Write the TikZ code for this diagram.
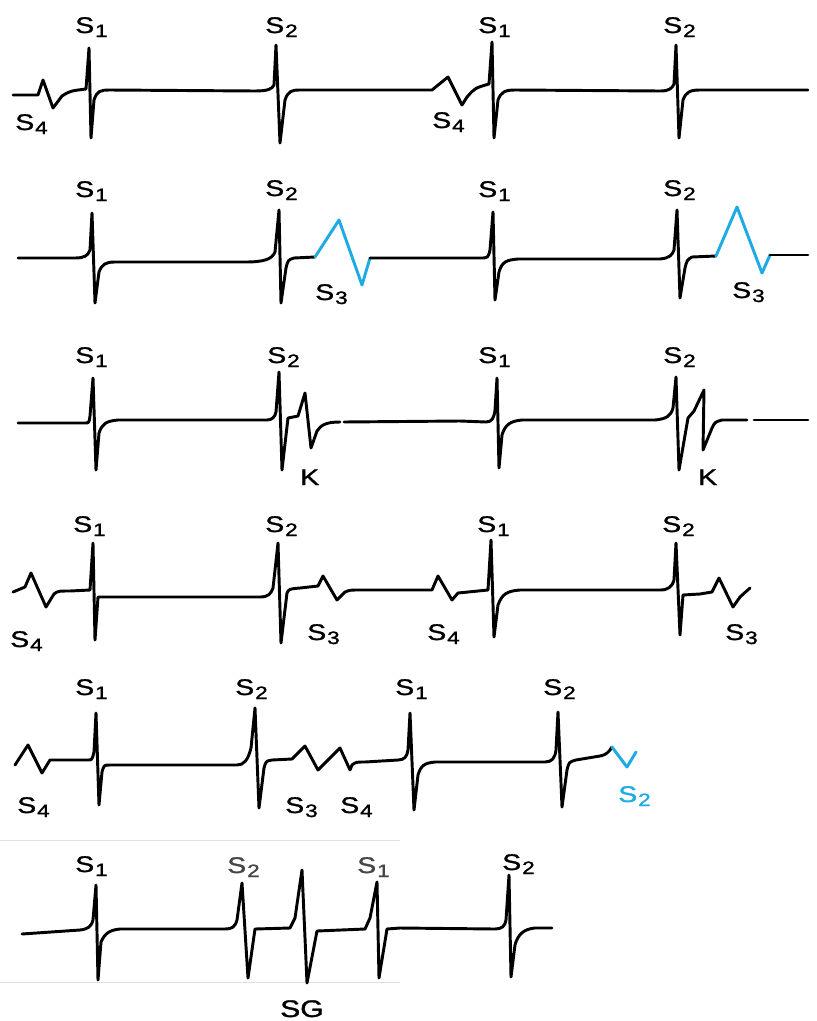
\documentclass[tikz,border=0pt]{standalone}
\usepackage{fontspec}
\setmainfont{Liberation Sans}
\newfontfamily\labfont[FakeBold=1.2]{Liberation Sans}
\definecolor{sblue}{RGB}{30,170,228}
\definecolor{lgray}{RGB}{70,70,70}
\newcommand{\lbl}[1]{\scalebox{1.25}[1]{S\kern0.6pt\raisebox{-3pt}{\fontsize{13.5}{14}\selectfont #1}}}
\newcommand{\wide}[1]{\scalebox{1.25}[1]{#1}}
\begin{document}
\begin{tikzpicture}[x=0.75pt,y=-0.75pt,
  trace/.style={line width=2.2pt,line join=round,line cap=round,black},
  bluetrace/.style={trace,draw=sblue},
  lab/.style={anchor=base west,inner sep=0pt,font=\labfont\fontsize{17}{19}\selectfont},
  faint/.style={draw=black!12,line width=0.6pt}]
\useasboundingbox (0,0) rectangle (817,1021);

% ---------- row 1 ----------
\draw[trace] (13,95) -- (38,95) -- (43,80) -- (53,108) -- (62,96) .. controls (70,91) .. (86,89) -- (89,48) -- (91,138) -- (94,100) .. controls (97,91) and (100,90) .. (110,90) -- (255,91) .. controls (268,91) and (272,89) .. (274,85) -- (276,45) -- (280,143) -- (285,100) .. controls (288,91) and (292,90) .. (300,90) -- (432,90) -- (448,77) -- (462,105) -- (467,97) .. controls (475,88) .. (489,84) -- (492,42) -- (494,138) -- (498,100) .. controls (501,92) and (505,90) .. (515,90) -- (660,91) .. controls (670,91) and (672,88) .. (674,84) -- (676,45) -- (679,138) -- (683,100) .. controls (686,92) and (690,90) .. (700,90) -- (808,90);
\node[lab] (r1a) at (75,33) {\lbl{1}};
\node[lab] (r1b) at (265,33) {\lbl{2}};
\node[lab] (r1c) at (15,130) {\lbl{4}};
\node[lab] (r1d) at (478,33) {\lbl{1}};
\node[lab] (r1e) at (663,33) {\lbl{2}};
\node[lab] (r1f) at (432,128) {\lbl{4}};

% ---------- row 2 ----------
\draw[trace] (18,258) -- (75,258) .. controls (84,258) and (88,256) .. (90,250) -- (92,213) -- (95,303) -- (99,272) .. controls (102,264) and (106,262) .. (115,262) -- (245,262) .. controls (265,262) and (272,259) .. (275,252) -- (279,210) -- (281,303) -- (286,268) .. controls (288,260) .. (294,258) -- (315,257);
\draw[bluetrace] (315,257) -- (339,220) -- (362,285) -- (370,258);
\draw[trace] (370,258) -- (480,258) .. controls (488,258) .. (490,250) -- (493,212) -- (495,300) -- (499,272) .. controls (502,262) and (506,260) .. (518,259) -- (660,259) .. controls (670,258) and (672,255) .. (674,250) -- (677,210) -- (680,298) -- (685,268) .. controls (687,260) .. (692,257) -- (716,256);
\draw[bluetrace] (716,256) -- (737,207) -- (762,273) -- (770,255);
\draw[trace] (770,255) -- (808,255);
\node[lab] (r2a) at (75,197) {\lbl{1}};
\node[lab] (r2b) at (265,196) {\lbl{2}};
\node[lab] (r2c) at (315,300) {\lbl{3}};
\node[lab] (r2d) at (478,197) {\lbl{1}};
\node[lab] (r2e) at (663,196) {\lbl{2}};
\node[lab] (r2f) at (732,298) {\lbl{3}};

% ---------- row 3 ----------
\draw[trace] (18,423) -- (85,423) .. controls (89,423) .. (90,416) -- (93,378) -- (96,470) -- (99,433) .. controls (102,424) and (106,421) .. (118,420) -- (267,420) .. controls (272,420) and (275,417) .. (276,412) -- (279,372) -- (282,470) -- (288,418) -- (298,416) -- (305,393) -- (311,448) -- (317,431) .. controls (321,425) and (326,422) .. (340,422);
\draw[trace] (344,422) -- (460,421) -- (486,422) .. controls (492,422) and (494,418) .. (495,410) -- (497,378) -- (499,468) -- (502,435) .. controls (505,425) and (510,421) .. (522,420) -- (655,420) .. controls (666,419) and (671,416) .. (673,408) -- (676,377) -- (679,470) -- (688,418) -- (694,411) -- (704,390) -- (703,450) -- (712,428) .. controls (715,422) .. (722,420) -- (747,420);
\draw[trace] (754,420) -- (808,420);
\node[lab] (r3a) at (75,363) {\lbl{1}};
\node[lab] (r3b) at (267,363) {\lbl{2}};
\node[lab] (r3c) at (300,485) {\wide{K}};
\node[lab] (r3d) at (478,363) {\lbl{1}};
\node[lab] (r3e) at (663,363) {\lbl{2}};
\node[lab] (r3f) at (698,485) {\wide{K}};

% ---------- row 4 ----------
\draw[trace] (13,592) -- (25,587) -- (31,573) -- (46,607) -- (54,594) .. controls (58,591) .. (70,591) -- (90,590) -- (93,543) -- (95,640) -- (98,597) -- (260,597) .. controls (268,597) and (271,594) .. (273,588) -- (278,543) -- (281,643) -- (287,593) .. controls (289,589) .. (300,588) -- (318,586) -- (323,576) -- (337,600) -- (345,592) .. controls (350,590) .. (360,590) -- (432,590) -- (438,576) -- (452,600) -- (458,593) -- (488,590) -- (491,540) -- (494,637) -- (498,605) .. controls (502,594) and (507,591) .. (520,590) -- (660,590) .. controls (668,590) and (672,587) .. (674,580) -- (676,543) -- (680,635) -- (683,595) -- (700,594) -- (712,592) -- (719,578) -- (733,607) -- (740,597) -- (750,588);
\node[lab] (r4a) at (73,532) {\lbl{1}};
\node[lab] (r4b) at (265,532) {\lbl{2}};
\node[lab] (r4c) at (10,647) {\lbl{4}};
\node[lab] (r4d) at (307,640) {\lbl{3}};
\node[lab] (r4e) at (477,532) {\lbl{1}};
\node[lab] (r4f) at (662,532) {\lbl{2}};
\node[lab] (r4g) at (427,640) {\lbl{4}};
\node[lab] (r4h) at (725,640) {\lbl{3}};

% ---------- row 5 ----------
\draw[trace] (15,765) -- (28,745) -- (42,773) -- (50,760) -- (88,760) .. controls (92,760) .. (94,752) -- (96,713) -- (99,805) -- (102,772) .. controls (104,765) .. (110,765) -- (237,765) .. controls (244,765) and (248,760) .. (251,748) -- (255,708) -- (259,808) -- (264,768) .. controls (266,761) .. (272,760) -- (292,759) -- (305,746) -- (318,770) -- (330,758) -- (340,748) -- (350,770) -- (352,765) .. controls (356,762) .. (365,762) -- (398,760) .. controls (404,760) and (407,757) .. (408,750) -- (410,713) -- (414,810) -- (418,775) .. controls (421,765) and (425,763) .. (435,762) -- (545,762) .. controls (552,762) and (555,758) .. (556,750) -- (558,712) -- (562,807) -- (567,770) .. controls (569,762) .. (576,760) -- (600,756) .. controls (606,755) and (609,752) .. (612,747);
\draw[bluetrace] (612,747) -- (627,767) -- (636,752);
\node[lab] (r5a) at (75,695) {\lbl{1}};
\node[lab] (r5b) at (235,695) {\lbl{2}};
\node[lab] (r5c) at (17,813) {\lbl{4}};
\node[lab] (r5d) at (285,813) {\lbl{3}};
\node[lab] (r5e) at (340,813) {\lbl{4}};
\node[lab] (r5f) at (395,695) {\lbl{1}};
\node[lab] (r5g) at (543,695) {\lbl{2}};
\node[lab,text=sblue] (r5h) at (618,802) {\lbl{2}};

% ---------- row 6 ----------
\draw[faint] (0,840) -- (400,840);
\draw[faint] (0,982) -- (400,982);
\draw[trace] (22,934) -- (80,930) .. controls (88,929) and (91,927) .. (93,920) -- (96,885) -- (98,980) -- (101,942) .. controls (105,933) and (110,930) .. (120,929) -- (225,929) .. controls (232,929) and (235,927) .. (237,920) -- (242,883) -- (248,978) -- (255,929) -- (290,928) -- (295,918) -- (302,870) -- (307,983) -- (317,931) -- (365,929) -- (370,918) -- (377,882) -- (379,978) -- (387,929) -- (400,928) -- (495,929) .. controls (502,929) and (505,926) .. (506,920) -- (509,875) -- (511,977) -- (515,945) .. controls (518,934) and (524,929) .. (535,928) -- (552,928);
\node[lab] (r6a) at (75,872) {\lbl{1}};
\node[lab,text=lgray] (r6b) at (227,873) {\lbl{2}};
\node[lab,text=lgray] (r6c) at (357,873) {\lbl{1}};
\node[lab] (r6d) at (502,870) {\lbl{2}};
\node[lab,font=\labfont\fontsize{18}{20}\selectfont] (r6e) at (280,1017) {\wide{SG}};
\end{tikzpicture}
\end{document}
